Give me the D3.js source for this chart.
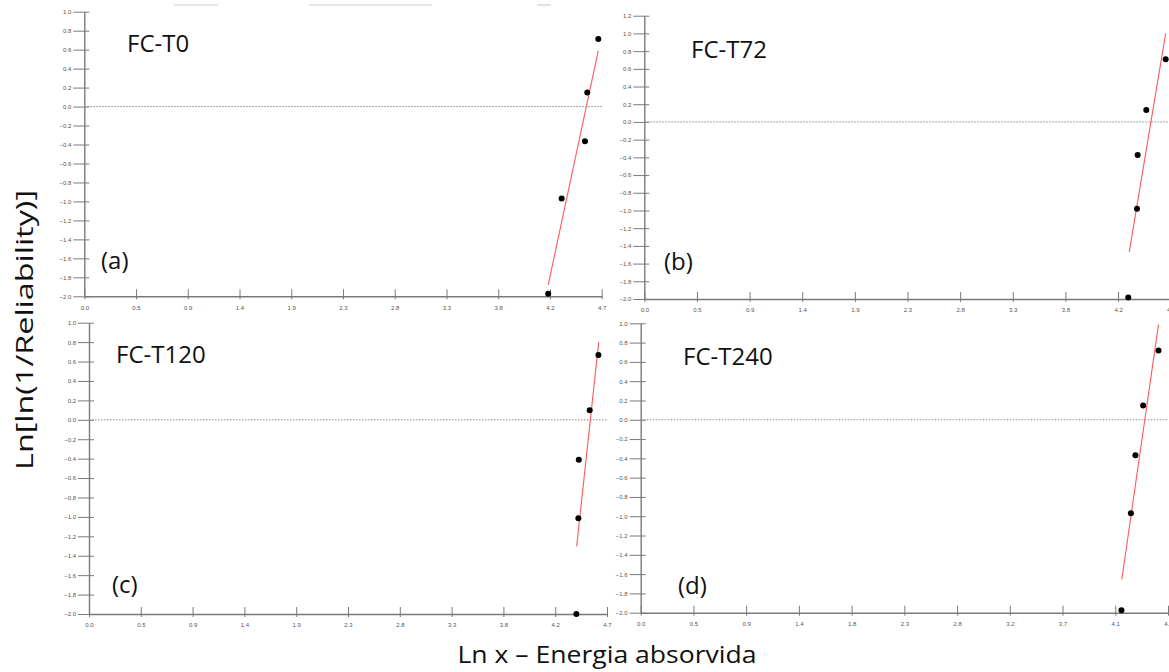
<!DOCTYPE html>
<html>
<head>
<meta charset="utf-8">
<script src="https://cdn.jsdelivr.net/npm/d3@7"></script>
<style>
  html, body { margin: 0; padding: 0; background: #fff; }
  svg { display: block; }
</style>
</head>
<body>
<svg id="chart" width="1169" height="672"></svg>
<script>
// ---------------- DATA ----------------
const panelNames = ["FC-T0", "FC-T72", "FC-T120", "FC-T240"];
const panelTags = ["(a)", "(b)", "(c)", "(d)"];

const xTicksA = ["0.0","0.5","0.9","1.4","1.9","2.3","2.8","3.3","3.8","4.2","4.7"];
const xTicksB = ["0.0","0.5","0.9","1.4","1.9","2.3","2.8","3.3","3.8","4.2","4.7"];
const xTicksC = ["0.0","0.5","0.9","1.4","1.9","2.3","2.8","3.3","3.8","4.2","4.7"];
const xTicksD = ["0.0","0.5","0.9","1.4","1.8","2.3","2.8","3.2","3.7","4.1","4.6"];
const xMax = [4.7, 4.7, 4.7, 4.6];
const yMax = [1.0, 1.2, 1.0, 1.0];
const yMin = [-2.0, -2.0, -2.0, -2.0];

// points: ln x  vs  ln[ln(1/R)]
const ptsAx = [4.214, 4.336, 4.548, 4.569, 4.669];
const ptsAy = [-1.974, -0.969, -0.365, 0.148, 0.713];
const ptsBx = [4.321, 4.399, 4.405, 4.482, 4.655];
const ptsBy = [-1.982, -0.981, -0.374, 0.134, 0.707];
const ptsCx = [4.422, 4.440, 4.444, 4.543, 4.622];
const ptsCy = [-2.0, -1.013, -0.412, 0.098, 0.668];
const ptsDx = [4.194, 4.276, 4.316, 4.383, 4.517];
const ptsDy = [-1.974, -0.969, -0.368, 0.147, 0.717];

// fitted (red) lines: endpoints
const fitAx = [4.214, 4.669]; const fitAy = [-1.879, 0.590];
const fitBx = [4.330, 4.655]; const fitBy = [-1.467, 1.001];
const fitCx = [4.425, 4.625]; const fitCy = [-1.304, 0.803];
const fitDx = [4.197, 4.517]; const fitDy = [-1.656, 0.986];

const yTitle = "Ln[ln(1/Reliability)]";
const xTitle = "Ln x \u2013 Energia absorvida";

// ---------------- LAYOUT ----------------
const layout = [
  { l: 84.3,  r: 601.7,  t: 11.7,  b: 296.3, nameX: 127, nameY: 52,  tagX: 101, tagY: 269 },
  { l: 644.3, r: 1170.7, t: 15.7,  b: 299.0, nameX: 691, nameY: 58,  tagX: 664, tagY: 270 },
  { l: 89.0,  r: 607.0,  t: 322.7, b: 614.0, nameX: 116, nameY: 363, tagX: 112, tagY: 593 },
  { l: 640.7, r: 1168.0, t: 323.3, b: 612.7, nameX: 683, nameY: 365, tagX: 678, tagY: 594 }
];

const pts = [[ptsAx, ptsAy],[ptsBx, ptsBy],[ptsCx, ptsCy],[ptsDx, ptsDy]];
const fits = [[fitAx, fitAy],[fitBx, fitBy],[fitCx, fitCy],[fitDx, fitDy]];
const xTickSets = [xTicksA, xTicksB, xTicksC, xTicksD];

const svg = d3.select("#chart");
const axisColor = "#7a7a7a";
const labelColor = "#555";

// artifact lines at the very top
const topLines = [[174, 218], [309, 432], [537, 551]];
svg.selectAll("line.top").data(topLines).enter().append("line")
  .attr("x1", d => d[0]).attr("x2", d => d[1]).attr("y1", 5).attr("y2", 5)
  .attr("stroke", "#d0d0d0").attr("stroke-width", 1.2);

layout.forEach((L, i) => {
  const x = d3.scaleLinear().domain([0, xMax[i]]).range([L.l, L.r]);
  const y = d3.scaleLinear().domain([yMin[i], yMax[i]]).range([L.b, L.t]);
  const g = svg.append("g");

  // y axis
  const yVals = d3.range(Math.round((yMax[i] - yMin[i]) / 0.2) + 1).map(k => +(yMin[i] + k * 0.2).toFixed(1));
  const yAx = g.append("g").attr("transform", `translate(${L.l},0)`)
    .call(d3.axisLeft(y).tickValues(yVals).tickSizeOuter(0).tickSizeInner(11).tickPadding(2)
      .tickFormat(d3.format(".1f")));
  yAx.select(".domain").attr("stroke", axisColor).attr("stroke-width", 1.4);
  yAx.selectAll(".tick line").attr("stroke", axisColor).attr("x1", 5).attr("x2", -11);
  yAx.selectAll(".tick text").attr("fill", labelColor).style("font-family", "Liberation Sans, Arial, sans-serif")
    .style("font-size", "6px");

  // x axis
  const xVals = xTickSets[i].map((_, k) => k * xMax[i] / 10);
  const xAx = g.append("g").attr("transform", `translate(0,${L.b})`)
    .call(d3.axisBottom(x).tickValues(xVals).tickSizeOuter(0).tickSizeInner(3).tickPadding(6)
      .tickFormat((d, k) => xTickSets[i][k]));
  xAx.select(".domain").attr("stroke", axisColor).attr("stroke-width", 1.4);
  xAx.selectAll(".tick line").attr("stroke", axisColor).attr("y1", -7).attr("y2", 3);
  xAx.selectAll(".tick text").attr("fill", labelColor).style("font-family", "Liberation Sans, Arial, sans-serif")
    .style("font-size", "6px");

  // zero reference (dotted)
  g.append("line")
    .attr("x1", x(0)).attr("x2", x(xMax[i])).attr("y1", y(0)).attr("y2", y(0))
    .attr("stroke", "#8a8a8a").attr("stroke-width", 1).attr("stroke-dasharray", "1.5,1.5");

  // fitted line
  const f = fits[i];
  g.append("line")
    .attr("x1", x(f[0][0])).attr("y1", y(f[1][0]))
    .attr("x2", x(f[0][1])).attr("y2", y(f[1][1]))
    .attr("stroke", "#ff5a5a").attr("stroke-width", 1.1);

  // points
  const p = pts[i];
  g.selectAll("circle").data(p[0].map((v, k) => [v, p[1][k]])).enter().append("circle")
    .attr("cx", d => x(d[0])).attr("cy", d => y(d[1])).attr("r", 3).attr("fill", "#000");

  // panel name and tag
  g.append("text").attr("x", L.nameX).attr("y", L.nameY).text(panelNames[i])
    .style("font-family", "Open Sans, sans-serif").style("font-size", "24px").attr("fill", "#111");
  g.append("text").attr("x", L.tagX).attr("y", L.tagY).text(panelTags[i])
    .style("font-family", "Open Sans, sans-serif").style("font-size", "24px").attr("fill", "#111");
});

// axis titles
svg.append("text")
  .attr("transform", "translate(33,330) rotate(-90)")
  .attr("text-anchor", "middle")
  .attr("textLength", 280).attr("lengthAdjust", "spacingAndGlyphs")
  .style("font-family", "Open Sans, sans-serif").style("font-size", "23px").attr("fill", "#111")
  .text(yTitle);

svg.append("text")
  .attr("x", 607).attr("y", 663)
  .attr("text-anchor", "middle")
  .attr("textLength", 299).attr("lengthAdjust", "spacingAndGlyphs")
  .style("font-family", "Open Sans, sans-serif").style("font-size", "23px").attr("fill", "#111")
  .text(xTitle);
</script>
</body>
</html>
